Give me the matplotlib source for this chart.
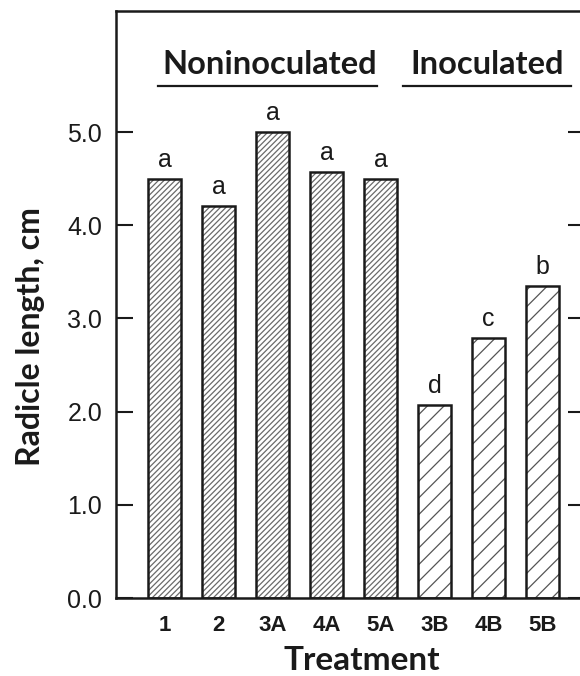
import numpy as np
import matplotlib
matplotlib.use("Agg")
import matplotlib.pyplot as plt

treatments = ["1", "2", "3A", "4A", "5A", "3B", "4B", "5B"]
radicle_cm = [4.50, 4.21, 5.00, 4.57, 4.50, 2.07, 2.79, 3.35]
letters = ["a", "a", "a", "a", "a", "d", "c", "b"]
inoculated = [False, False, False, False, False, True, True, True]

plt.rcParams["hatch.linewidth"] = 0.9

fig = plt.figure(figsize=(5.8, 6.76), dpi=100)
ax = fig.add_axes([116 / 580, 1 - 598 / 676, (585 - 116) / 580, (598 - 11) / 676])

x = np.arange(len(treatments))
for xi, h, lab, ino in zip(x, radicle_cm, letters, inoculated):
    # hatch fill in grey, then a dark outline on top
    ax.bar(xi, h, width=0.61, facecolor="white",
           edgecolor="#555555" if ino else "#6a6a6a", linewidth=0,
           hatch="//" if ino else "//////", zorder=2)
    ax.bar(xi, h, width=0.61, fill=False, edgecolor="#1a1a1a",
           linewidth=1.8, zorder=3)
    ax.annotate(lab, (xi, h), xytext=(0, 5), textcoords="offset points",
                ha="center", va="bottom", fontsize=18,
                family="Liberation Sans", color="#1a1a1a")

ax.set_xlim(-0.90, 7.79)
ax.set_ylim(0, 6.30)
ax.set_yticks([0, 1, 2, 3, 4, 5])
ax.set_yticklabels(["0.0", "1.0", "2.0", "3.0", "4.0", "5.0"],
                   family="Liberation Sans", fontsize=18)
ax.set_xticks(x)
ax.set_xticklabels(treatments, family="Liberation Sans", fontsize=16,
                   fontweight="bold")
ax.tick_params(axis="y", direction="in", length=12, width=1.5, pad=10,
               right=True, colors="#1a1a1a")
ax.tick_params(axis="x", length=0, pad=12, colors="#1a1a1a")
for s in ax.spines.values():
    s.set_linewidth(1.8)
    s.set_color("#1a1a1a")

# group headers with underlines
ax.text(1.95, 5.62, "Noninoculated", ha="center", va="baseline",
        family="Lato", fontweight="bold", fontsize=23.5, color="#1a1a1a")
ax.plot([-0.12, 3.94], [5.50, 5.50], color="#1a1a1a", lw=1.6)
ax.text(5.97, 5.62, "Inoculated", ha="center", va="baseline",
        family="Lato", fontweight="bold", fontsize=23.5, color="#1a1a1a")
ax.plot([4.42, 7.53], [5.50, 5.50], color="#1a1a1a", lw=1.6)

ax.set_xlabel("Treatment", family="Lato", fontweight="bold", fontsize=24,
              color="#1a1a1a")
ax.xaxis.set_label_coords((362 - 116) / 469, -(660 - 598) / 587)
ax.xaxis.label.set_va("center")
ax.set_ylabel("Radicle length, cm", family="Lato", fontweight="bold",
              fontsize=23, color="#1a1a1a")
ax.yaxis.set_label_coords(-(116 - 31) / 469, (598 - 337) / 587)
ax.yaxis.label.set_va("center")

fig.savefig("out.png", dpi=100)
